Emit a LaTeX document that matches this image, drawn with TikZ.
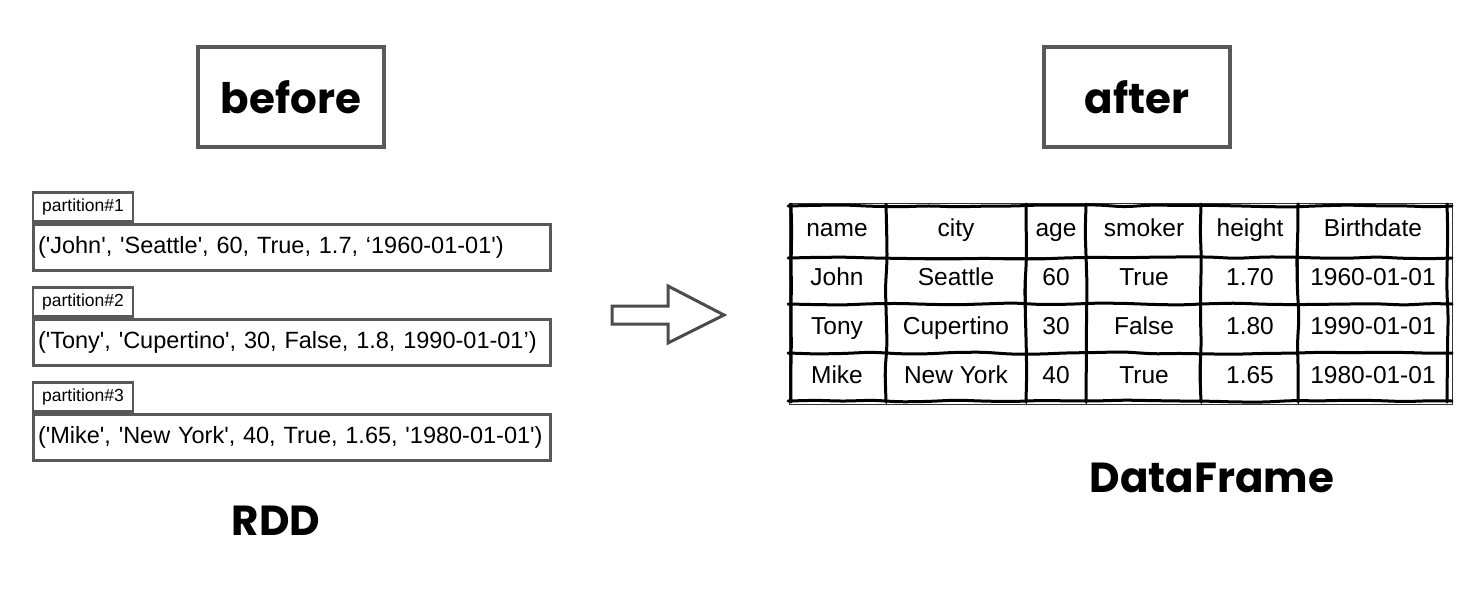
\documentclass[tikz,border=0pt]{standalone}
\usepackage{fontspec}
\setmainfont{Liberation Sans}
\newfontfamily\sketchfont{Poppins}
\usetikzlibrary{positioning,decorations.pathmorphing}
\newcommand{\sq}{\textquotesingle}
\tikzset{
  sketch_box/.style = {draw=black!65, line width=3.5pt, fill=white, inner sep=0pt},
  % title frames: before / after
  title_box/.style = {sketch_box, minimum width=186pt, minimum height=100pt},
  title_txt/.style = {font=\sketchfont\bfseries\fontsize{42}{46}\selectfont},
  tab_box/.style = {sketch_box, line width=2.5pt, minimum width=100pt, minimum height=29pt, font=\fontsize{17.5}{20}\selectfont},
  rec_box/.style = {sketch_box, minimum width=517pt, minimum height=46pt, text width=508pt, align=left, font=\fontsize{23.5}{27}\selectfont},
  cell/.style = {text height=17pt, text depth=5pt, font=\fontsize{24.5}{28}\selectfont},
  thin_line/.style = {draw=black!80, line width=0.6pt},
  grid_line/.style = {line width=3pt, line cap=round, rounded corners=8pt,
    decorate, decoration={random steps, segment length=28pt, amplitude=1.2pt}}
}
\begin{document}
\begin{tikzpicture}[x=1pt, y=-1pt]
  \useasboundingbox (0,0) rectangle (1467,590);
  % titles
  \node [title_box] (before) at (291,97) {};
  \node [title_txt] at (before) {before};
  \node [title_box] (after) at (1137,97) {};
  \node [title_txt] at (after) {after};
  % RDD - partitions
  \node [tab_box] (tab1) at (83,207) {partition\#1};
  \node [rec_box, anchor=north west] (rec1) at (tab1.south west)
        {(\sq John\sq, \sq Seattle\sq, 60, True, 1.7, ‘1960-01-01\sq)};
  \node [tab_box, below right=14pt and 0pt of rec1.south west] (tab2) {partition\#2};
  \node [rec_box, anchor=north west] (rec2) at (tab2.south west)
        {(\sq Tony\sq, \sq Cupertino\sq, 30, False, 1.8, 1990-01-01’)};
  \node [tab_box, below right=14pt and 0pt of rec2.south west] (tab3) {partition\#3};
  \node [rec_box, anchor=north west] (rec3) at (tab3.south west)
        {(\sq Mike\sq, \sq New York\sq, 40, True, 1.65, \sq 1980-01-01\sq)};
  \node [title_txt] (rdd) at (276,521) {RDD};
  % arrow
  \draw [draw=black!70, line width=3pt, line join=miter]
        (612,306) -- (668,306) -- (668,286) -- (724,315) -- (668,343) -- (668,324) -- (612,324) -- cycle;
  % DataFrame - thin grid
  \draw [thin_line] (789,203) rectangle (1452,404);
  \foreach \x in {886,1026,1086,1201,1298}
    \draw [thin_line] (\x,203) -- (\x,404);
  \draw [thin_line] (789,257) -- (1452,257);
  % DataFrame - cells
  \foreach \y/\a/\b/\c/\d/\e/\f [count=\r] in {
      230/name/city/age/smoker/height/Birthdate,
      279/John/Seattle/60/True/1.70/1960-01-01,
      328/Tony/Cupertino/30/False/1.80/1990-01-01,
      377/Mike/New York/40/True/1.65/1980-01-01}{
    \node [cell] (c\r-1) at (837,\y) {\a};
    \node [cell] (c\r-2) at (956,\y) {\b};
    \node [cell] (c\r-3) at (1056,\y) {\c};
    \node [cell] (c\r-4) at (1144,\y) {\d};
    \node [cell] (c\r-5) at (1250,\y) {\e};
    \node [cell] (c\r-6) at (1373,\y) {\f};
  }
  % DataFrame - sketchy strokes
  \foreach \y in {206,258,304,353,401}
    \draw [grid_line] (788,\y) -- (1452,\y);
  \foreach \x in {791,886,1026,1086,1201,1298,1447}
    \draw [grid_line] (\x,204) -- (\x,402);
  \node [title_txt] (df) at (1212,478) {DataFrame};
\end{tikzpicture}
\end{document}
